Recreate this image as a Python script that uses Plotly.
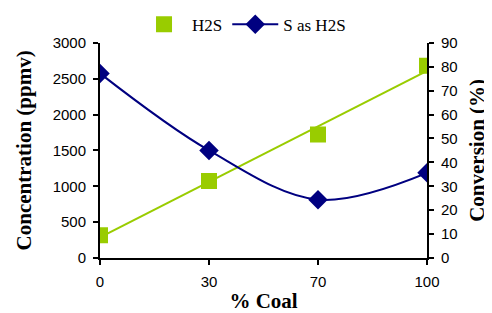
import numpy as np
import plotly.graph_objects as go

categories = ["0", "30", "70", "100"]
h2s_ppmv = [316, 1075, 1720, 2680]
s_as_h2s_pct = [77.2, 45.0, 24.4, 35.6]

idx = np.arange(len(categories))
slope, intercept = np.polyfit(idx, h2s_ppmv, 1)
trend = slope * idx + intercept

green = "#99CC00"
navy = "#000080"

fig = go.Figure()
fig.add_trace(go.Scatter(
    x=idx, y=trend, mode="lines", line=dict(color=green, width=2),
    showlegend=False, hoverinfo="skip"))
fig.add_trace(go.Scatter(
    x=idx, y=h2s_ppmv, mode="markers", name="H2S",
    marker=dict(symbol="square", size=16, color=green)))
fig.add_trace(go.Scatter(
    x=idx, y=s_as_h2s_pct, mode="lines+markers", name="S as H2S", yaxis="y2",
    line=dict(color=navy, width=2, shape="spline", smoothing=1.0),
    marker=dict(symbol="diamond", size=15, color=navy)))

tickfont = dict(family="Liberation Sans, Arial", size=15, color="black")
titlefont = dict(family="Liberation Serif, Times New Roman", size=21, color="black", weight="bold")
axis_common = dict(showgrid=False, zeroline=False, showline=True, linecolor="black", linewidth=2,
                   ticks="outside", ticklen=5, tickwidth=2, tickcolor="black", tickfont=tickfont,
                   automargin=False)

fig.update_layout(
    width=484, height=305,
    margin=dict(l=92, r=65, t=32, b=55),
    paper_bgcolor="white", plot_bgcolor="white",
    showlegend=True,
    legend=dict(orientation="h", xref="container", yref="container",
                x=0.2645, y=0.945, xanchor="left", yanchor="middle",
                itemwidth=46,
                font=dict(family="Liberation Serif, Times New Roman", size=17, color="black"),
                bgcolor="rgba(0,0,0,0)"),
    xaxis=dict(range=[0, 3], tickvals=list(idx), ticktext=categories,
               ticklabelstandoff=4,
               title=dict(text="% Coal", font=titlefont, standoff=10), **axis_common),
    yaxis=dict(range=[0, 3000], dtick=500, ticklabelstandoff=4,
               title=dict(text="Concentration (ppmv)", font=titlefont, standoff=15), **axis_common),
    yaxis2=dict(range=[0, 90], dtick=10, overlaying="y", side="right", ticklabelstandoff=4,
                title=dict(text="Conversion (%)", font=titlefont, standoff=13), **axis_common),
)

fig.write_html("out.html")
